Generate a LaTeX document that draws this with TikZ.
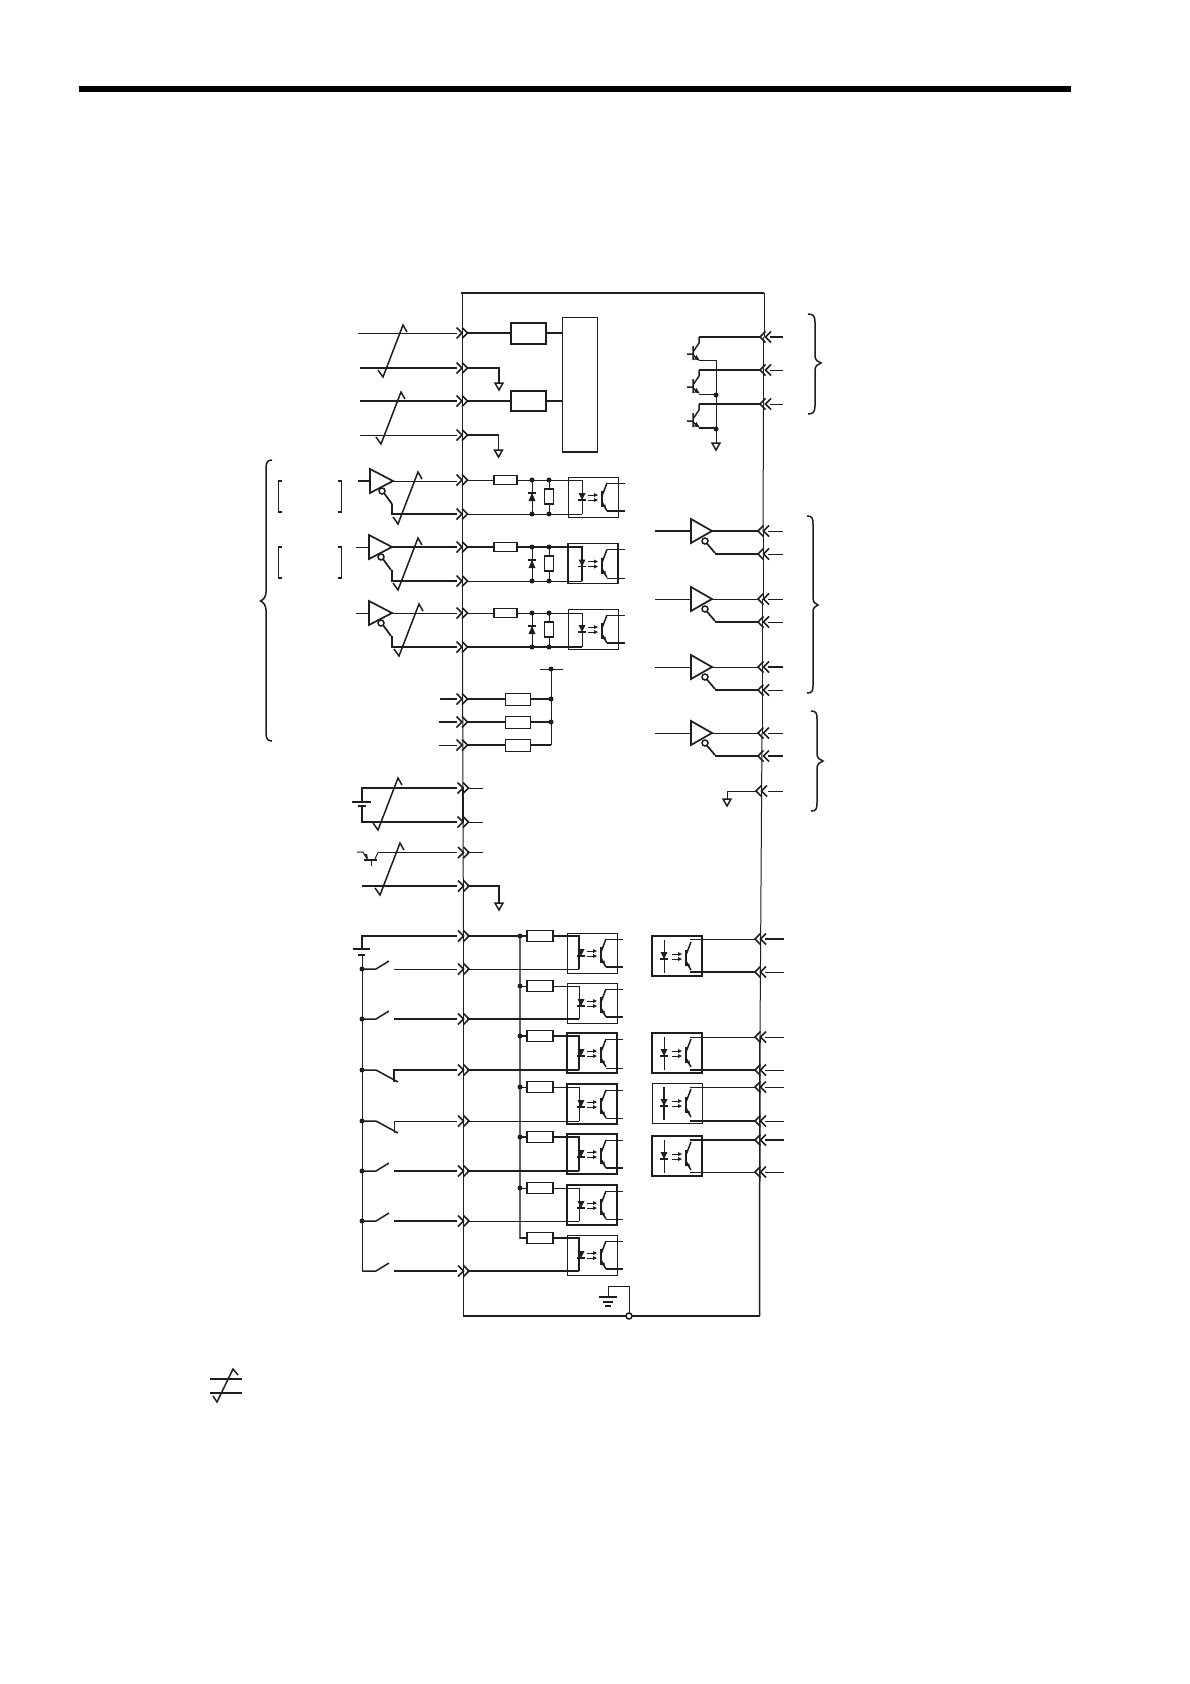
\documentclass[tikz,border=0pt]{standalone}
\usepackage{tikz}
\definecolor{ink}{HTML}{1E1E1E}
\tikzset{
  thn/.style={line width=1.0pt,draw=ink},
  thk/.style={line width=2.1pt,draw=ink},
  med/.style={line width=1.5pt,draw=ink},
  chev/.style={line width=1.6pt,draw=ink,line join=miter},
  dotf/.style={fill=ink,draw=none}
}
% chevrons
\newcommand\chl[2]{\draw[chev] ({#1-5.5},{#2-5.5})--(#1,#2)--({#1-5.5},{#2+5.5}) (#1,{#2-5.5})--({#1+5.5},#2)--(#1,{#2+5.5});}
\newcommand\chr[2]{\draw[chev] ({#1+5.5},{#2-5.5})--(#1,#2)--({#1+5.5},{#2+5.5}) ({#1+11},{#2-5.5})--({#1+5.5},#2)--({#1+11},{#2+5.5});}
% cable slash
\newcommand\zz[2]{\draw[med] (#1,#2)--({#1+5},{#2+7})--({#1+25},{#2-45})--({#1+29},{#2-38});}
% ground triangle
\newcommand\gnd[2]{\draw[med,fill=white] ({#1-4},#2)--({#1+4},#2)--(#1,{#2+7})--cycle;}
\newcommand\jn[2]{\fill[dotf] (#1,#2) circle (2.5);}
% line drivers
\newcommand\bufl[2]{\draw[line width=1.7pt,draw=ink,fill=white] (#1,{#2-12})--(#1,{#2+12})--({#1+23},#2)--cycle;
  \draw[line width=1.7pt,draw=ink] ({#1+14},{#2+12})--({#1+22},{#2+23});
  \draw[line width=1.5pt,draw=ink,fill=white] ({#1+12},{#2+10}) circle (3);}
\newcommand\bufr[2]{\draw[line width=1.7pt,draw=ink,fill=white] (#1,{#2-12})--(#1,{#2+12})--({#1+21},#2)--cycle;
  \draw[line width=1.7pt,draw=ink] ({#1+15.5},{#2+12})--({#1+24},#2+22);
  \draw[line width=1.5pt,draw=ink,fill=white] ({#1+14},{#2+10}) circle (3);}
% optocoupler: #1 x0, #2 y0, #3 box style, #4 led offset
\newcommand\opto[4]{\draw[#3] (#1,#2) rectangle ({#1+50},{#2+40});
  \fill[ink] ({#1+#4-3.5},{#2+16})--({#1+#4+3.5},{#2+16})--({#1+#4},{#2+23})--cycle;
  \draw[med] ({#1+#4-4},{#2+23})--({#1+#4+4},{#2+23});
  \draw[thn] ({#1+20},{#2+18})--({#1+27},{#2+18}) ({#1+20},{#2+23})--({#1+27},{#2+23});
  \fill[ink] ({#1+30},{#2+18})--({#1+26},{#2+16})--({#1+26},{#2+20})--cycle
             ({#1+30},{#2+23})--({#1+26},{#2+21})--({#1+26},{#2+25})--cycle;
  \draw[med] ({#1+34},{#2+14})--({#1+34},{#2+30});
  \draw[med] ({#1+34},{#2+19})--({#1+39},{#2+6});
  \draw[med] ({#1+34},{#2+25})--({#1+39},{#2+34});
  \fill[ink] ({#1+38},{#2+32.5})--({#1+34.5},{#2+29})--({#1+37.5},{#2+27.5})--cycle;}
% right transistor
\newcommand\trn[2]{\draw[med] (#1,{#2-8})--(#1,{#2+6}) ({#1-6},#2)--(#1,#2)
   (#1,{#2-2})--({#1+6},{#2-11})--({#1+6},{#2-17}) (#1,{#2+1})--({#1+6},{#2+6});
   \fill[ink] ({#1+6},{#2+6})--({#1+1},{#2+5.5})--({#1+3.5},{#2+1})--cycle;}
% switches
\newcommand\swo[2]{\draw[med] (362,#1)--(376,#1)--(389,{#1-8}); \draw[#2] (394,#1)--(457,#1);}
\newcommand\swc[2]{\draw[med] (362,#1)--(376,#1)--(398,{#1+12}); \draw[#2] (394,{#1+12})--(394,#1)--(457,#1);}
\begin{document}
\begin{tikzpicture}[x=1pt,y=-1pt]
\useasboundingbox (0,0) rectangle (1190,1684);
\fill[white] (0,0) rectangle (1190,1684);
% page rule
\fill[black] (79,86) rectangle (1071,92);
% enclosure
\draw[thk] (461,293)--(764,293);
\draw[thn] (462,293)--(462,368);
\draw[med] (462.5,368)--(462.5,650);
\draw[thn] (462.5,650)--(463,788);
\draw[med] (463,788)--(463,822);
\draw[thn] (463,822)--(463.5,936);
\draw[med] (463.5,936)--(463.5,1316);
\draw[thk] (462.5,1316)--(759.5,1316);
\draw[thn] (764,293)--(764,337);
\draw[med] (763.5,337)--(763.5,404);
\draw[thn] (763.5,404)--(763,531);
\draw[med] (763.5,531)--(763.5,554);
\draw[thn] (763,554)--(763,599);
\draw[med] (762.5,599)--(762.5,733);
\draw[thn] (762,733)--(760,1037);
\draw[med] (760,1037)--(759.5,1316);
% earth
\draw[thn] (629,1316)--(629,1286)--(608,1286)--(608,1297);
\draw[med] (599,1297)--(617,1297) (603,1302)--(613,1302);
\draw[thk] (605,1306)--(611,1306);
\draw[med,fill=white] (629,1316) circle (3);
%
% analog inputs
\draw[thn] (358,333)--(457,333); \draw[thk] (467,333)--(511,333);
\draw[thk] (360,368)--(457,368); \draw[thk] (467,368)--(499,368)--(499,383);
\draw[thk] (360,401)--(457,401); \draw[thk] (467,401)--(511,401);
\draw[thn] (360,435)--(457,435); \draw[med] (467,435)--(498.5,435)--(498.5,450);
\gnd{499}{383}\gnd{498.5}{450}
\zz{378}{370}\zz{376}{437}
\draw[thk,fill=white] (511,323) rectangle (546,344);
\draw[thk,fill=white] (511,391) rectangle (546,411);
\draw[thk] (546,333)--(562,333) (546,401)--(562,401);
\draw[thn,fill=white] (562,317) rectangle (597,452);
\draw[med] (562,452)--(597,452);
\foreach \y in {333,368,401,435}{\chl{462}{\y}}
%
% pulse inputs
\bufl{370}{481}\bufl{369}{547}\bufl{369}{613}
\draw[thk] (358,481)--(370,481); \draw[thn] (356,547)--(369,547); \draw[thn] (356,613)--(369,613);
\draw[thn] (393,481)--(457,481);
\draw[thk] (392,504)--(392,514)--(457,514);
\draw[thk] (392,547)--(457,547);
\draw[med] (392,570)--(392,581)--(457,581);
\draw[thn] (392,613)--(457,613);
\draw[thk] (392,636)--(392,647)--(457,647);
\zz{393}{517}\zz{393}{583}\zz{394}{649}
\foreach \y in {480,514,547,581,613,647}{\chl{462}{\y}}
% brackets
\draw[med] (282,481)--(278.5,481)--(278.5,512)--(282,512);
\draw[med] (338,481)--(341.5,481)--(341.5,512)--(338,512);
\draw[med] (282,547)--(278.5,547)--(278.5,578)--(282,578);
\draw[med] (338,547)--(341.5,547)--(341.5,578)--(338,578);
% left brace
\draw[med] (272,460) .. controls (268,460) and (266,462) .. (266,468)--(266,592) .. controls (266,597) and (263,600) .. (260.5,601) .. controls (263,602) and (266,605) .. (266,610)--(266,733) .. controls (266,739) and (268,741) .. (272,741);
% resistor-diode rows
\foreach \t/\b/\bx/\tw/\bw in {480/514/477/thn/thn,547/581/543/thk/thn,613/647/609/thn/thk}{
  \draw[\tw] (467,\t)--(582,\t)--(582,\b);
  \draw[\bw] (467,\b)--(582,\b);
  \draw[thn] (532,\t)--(532,\b) (549,\t)--(549,\b);
  \draw[med,fill=white] (494,{\t-4.5}) rectangle (517,{\t+4.5});
  \draw[med,fill=white] (544.5,{\t+9}) rectangle (553.5,{\t+24});
  \fill[ink] (532,{\t+13})--(528.5,{\t+21})--(535.5,{\t+21})--cycle;
  \draw[med] (528,{\t+13})--(536,{\t+13});
  \jn{532}{\t}\jn{549}{\t}\jn{532}{\b}\jn{549}{\b}
}
\opto{568}{477}{thn}{14}\draw[thn] (607,483)--(625,483); \draw[thk] (607,511)--(625,511);
\opto{568}{543.5}{med}{14}\draw[thn] (607,549.5)--(625,549.5); \draw[thn] (607,578)--(625,578);
\opto{568}{609}{thn}{14}\draw[thn] (607,615)--(625,615); \draw[thk] (607,643)--(625,643);
%
% pull-up resistors
\draw[thk] (440,699)--(457,699) (467,699)--(505,699) (530,699)--(551,699);
\draw[thk] (439,722)--(457,722) (467,722)--(505,722) (530,722)--(551,722);
\draw[thn] (439,745)--(457,745); \draw[thk] (467,745)--(505,745) (530,745)--(551,745);
\draw[thn] (540,669)--(563,669);
\draw[thn] (551,669)--(551,745);
\draw[thn,fill=white] (505,693) rectangle (530,705);
\draw[thn,fill=white] (505,716) rectangle (530,728);
\draw[thn,fill=white] (505,739) rectangle (530,751);
\jn{551}{669}\jn{551}{699}\jn{551}{722}
\foreach \y in {699,722,745}{\chl{462}{\y}}
%
% battery input
\draw[thk] (457,788)--(362,788)--(362,802);
\draw[thk] (352,802)--(371,802);
\draw[thk] (358,806)--(366,806);
\draw[thk] (362,806)--(362,822)--(457,822);
\draw[thn] (467,788)--(483,788) (467,822)--(483,822);
\zz{373}{823}
\foreach \y in {788,822}{\chl{463}{\y}}
%
% encoder pair
\draw[thn] (357,852)--(363,852)--(367,859);
\draw[thk] (364,860)--(377,860);
\draw[thn] (371,860)--(371,866);
\draw[thn] (375,859)--(378,852.5);
\draw[med] (378,852.5)--(457,852.5);
\draw[med] (467,852.5)--(483,852.5);
\fill[ink] (368,859)--(364,854)--(367,854)--cycle;
\draw[thk] (362,886)--(457,886);
\draw[thk] (467,886)--(499,886)--(499,903);
\gnd{499}{903}
\zz{375}{888}
\foreach \y in {852.5,886}{\chl{463.5}{\y}}
%
% switch inputs
\draw[thk] (457,936)--(362,936)--(362,949);
\draw[thk] (353,949)--(370,949);
\draw[med] (358,955)--(365,955);
\draw[thn] (362,955)--(362,1271);
\swo{969}{thn}\swo{1019}{thk}\swc{1070}{thk}\swc{1121}{thn}\swo{1171}{thk}\swo{1221}{thk}\swo{1271}{thk}
\foreach \y in {969,1019,1070,1121,1171,1221}{\jn{362}{\y}}
\foreach \y in {936,969,1019,1070,1121,1171,1221,1271}{\chl{463.5}{\y}}
% common bus and input optos
\draw[thk] (467,936)--(520,936);
\draw[line width=1.2pt,draw=ink!70] (520,936)--(520,1238)--(529,1238);
\foreach \rr/\bb/\tp/\ws/\wb/\bxs in {936/969/933/med/thn/thn,986/1019/983/thn/thk/thn,1036/1070/1033/med/thk/thk,1087/1121/1084/thn/thn/thk,1137/1171/1134/med/thk/med,1188/1221/1185/thn/thn/thk,1238/1271/1235/med/thk/thn}{
  \draw[\ws] (520,\rr)--(529,\rr) (553,\rr)--(579,\rr)--(579,\bb);
  \draw[\wb] (467,\bb)--(579,\bb);
  \draw[med,fill=white] (527,{\rr-5.5}) rectangle (553,{\rr+5.5});
  \opto{567}{\tp}{\bxs}{14}
}
\foreach \y in {936,986,1036,1087,1137,1188}{\jn{520}{\y}}
\draw[thn] (606,939)--(623,939); \draw[thk] (606,967)--(623,967);
\draw[thn] (606,989)--(623,989); \draw[thk] (606,1017)--(623,1017);
\draw[thn] (606,1039)--(623,1039); \draw[thn] (606,1068)--(623,1068);
\draw[thn] (606,1090)--(623,1090); \draw[thn] (606,1118)--(623,1118);
\draw[thn] (606,1140)--(623,1140); \draw[thk] (606,1168)--(623,1168);
\draw[thn] (606,1191)--(623,1191); \draw[thn] (606,1219)--(623,1219);
\draw[thn] (606,1241)--(623,1241); \draw[thk] (606,1269)--(623,1269);
%
% right output transistors
\draw[thk] (770,337)--(783,337); \draw[thn] (770,370)--(783,370) (770,404)--(783,404);
\draw[med] (760,337)--(699,337);
\draw[thk] (760,370)--(699,370) (760,404)--(699,404);
\trn{693}{354}\trn{693}{387}\trn{693}{421}
\draw[thn] (699,360)--(716,360);
\draw[thn] (699,394)--(716,394);
\draw[thk] (699,428)--(716,428);
\draw[thn] (716,360)--(716,443);
\gnd{716}{443}
\jn{716}{395}\jn{716}{429}
\chr{760}{337}\chr{760}{370}\chr{760}{404}
\draw[med] (808,314) .. controls (813,314) and (815,316) .. (815,322)--(815,356) .. controls (815,360) and (818,362) .. (821,363) .. controls (818,364) and (815,366) .. (815,370)--(815,406) .. controls (815,412) and (813,414) .. (808,414);
%
% right line drivers
\foreach \a/\b/\wa/\wb/\win/\wra/\wrb in {531/554/thk/med/thk/thn/thn,599/622/thn/thk/thn/thn/thn,667/690/thn/thk/thn/thk/thn,733/756/thn/thk/thn/thn/thk}{
  \bufr{691}{\a}
  \draw[\win] (655,\a)--(691,\a);
  \draw[\wa] (712,\a)--(758,\a);
  \draw[\wb] (715,\b)--(758,\b);
  \draw[\wra] (768,\a)--(783,\a);
  \draw[\wrb] (768,\b)--(783,\b);
  \chr{758}{\a}\chr{758}{\b}
}
\draw[thn] (768,791)--(783,791);
\draw[thn] (756,791)--(727,791)--(727,799);
\gnd{727}{799}
\chr{756}{791}
\draw[med] (807,516) .. controls (812,516) and (813,518) .. (813,524)--(813,598) .. controls (813,602) and (815,604) .. (818,605) .. controls (815,606) and (813,608) .. (813,612)--(813,686) .. controls (813,691) and (812,693) .. (807,693);
\draw[med] (811,711) .. controls (816,711) and (817,713) .. (817,719)--(817,754) .. controls (817,758) and (820,760) .. (823,761) .. controls (820,762) and (817,764) .. (817,768)--(817,803) .. controls (817,809) and (816,811) .. (811,811);
%
% right optos
\foreach \tp/\bs/\a/\b/\wa/\wb/\wra/\wrb in {936/thk/939/972/thn/thk/thk/thn,1033/thk/1037/1070/thn/thk/thn/thn,1083/thn/1087/1121/thn/thk/thn/thn,1136/thk/1140/1172/med/thn/thk/thn}{
  \opto{652}{\tp}{\bs}{12}
  \draw[\wa] (690,\a)--(755,\a);
  \draw[\wb] (690,\b)--(755,\b);
  \draw[\wra] (765,\a)--(784,\a);
  \draw[\wrb] (765,\b)--(784,\b);
  \draw[thn] (664,{\tp+4})--(664,{\tp+37});
  \chr{755}{\a}\chr{755}{\b}
}
\draw[thk] (664,1087)--(664,1120);
%
% legend symbol
\draw[med] (210,1379)--(242,1379) (210,1393)--(242,1393);
\draw[med] (213,1396)--(217,1402)--(233,1369)--(238,1375);
\end{tikzpicture}
\end{document}
